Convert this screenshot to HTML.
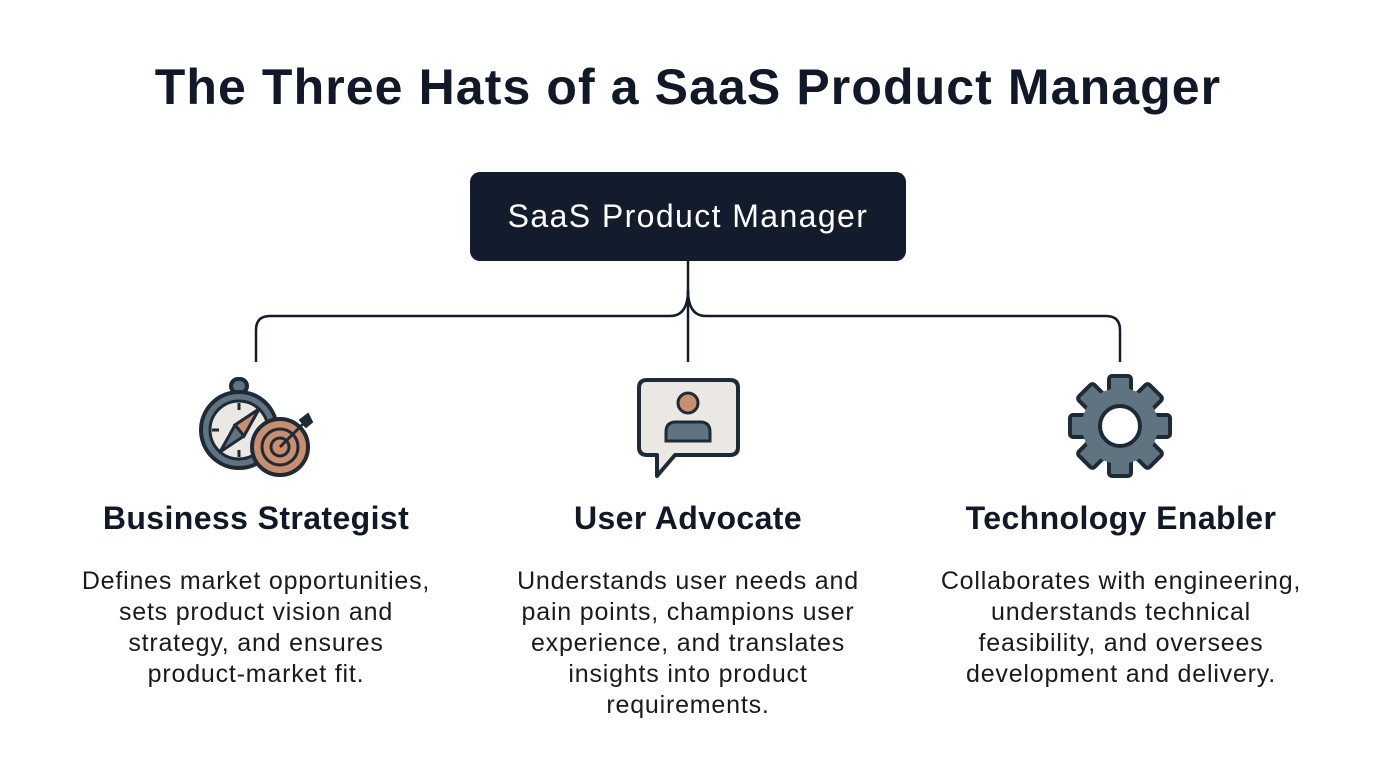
<!DOCTYPE html>
<html><head><meta charset="utf-8"><style>
body{margin:0;width:1376px;height:768px;background:#fff;font-family:"Liberation Sans",sans-serif;color:#111827;position:relative;overflow:hidden}
.t{position:absolute;left:0;width:1376px;text-align:center;top:58px;font-size:50px;font-weight:bold;letter-spacing:1.1px}
.box{position:absolute;left:470px;top:172px;width:436px;height:89px;background:#131c2c;border-radius:10px;color:#fff;font-size:32px;letter-spacing:1.4px;text-align:center;line-height:89px}
.h{position:absolute;width:500px;text-align:center;font-size:32px;font-weight:bold;top:500px;letter-spacing:0.4px}
.d{position:absolute;width:500px;text-align:center;font-size:25px;letter-spacing:0.8px;line-height:31px;top:566px;color:#1a1a1a}
</style></head><body>
<div class="t">The Three Hats of a SaaS Product Manager</div>
<div class="box">SaaS Product Manager</div>
<svg width="1376" height="768" style="position:absolute;left:0;top:0">
<g fill="none" stroke="#131c2c" stroke-width="2.5">
<path d="M688 261 V362"/>
<path d="M688 290 Q688 316 670 316 H270 Q256 316 256 330 V362"/>
<path d="M688 290 Q688 316 706 316 H1106 Q1120 316 1120 330 V362"/>
</g>
<g stroke="#1e2a36" stroke-width="4">
<rect x="231" y="379" width="16" height="14" rx="7" fill="#607380"/>
<circle cx="239" cy="430" r="38" fill="#607380"/>
<circle cx="239" cy="430" r="29" fill="#ebe8e3" stroke-width="3"/>
<path d="M239 403v7M239 450v7M212 430h7" stroke-width="3"/>
<path d="M259 409 L244 436 L220 452 L235 425 Z" fill="#607380" stroke-width="3"/>
<path d="M259 409 L244 436 L235 425 Z" fill="#c98d70" stroke-width="3"/>
<circle cx="280" cy="447" r="28" fill="#c98d70"/>
<circle cx="280" cy="447" r="18" fill="#c98d70" stroke-width="3"/>
<circle cx="280" cy="447" r="9" fill="#c98d70" stroke-width="3"/>
<path d="M280 447 L306 421" stroke-width="3"/>
<path d="M300 420 L308 414 L312 422 L306 427Z" fill="#1e2a36" stroke-width="2"/>
</g>
<g stroke="#1e2a36" stroke-width="4">
<path d="M647 380 H730 Q738 380 738 388 V447 Q738 455 730 455 H675 L657 476 V455 H647 Q639 455 639 447 V388 Q639 380 647 380Z" fill="#ebe8e3" stroke-linejoin="round"/>
<circle cx="688" cy="403" r="10" fill="#c98d70" stroke-width="3"/>
<path d="M666 441 V432 Q666 422 676 422 H700 Q710 422 710 432 V441Z" fill="#607380" stroke-width="3"/>
</g>
<g stroke="#1e2a36" stroke-width="4" fill="#607380" transform="translate(1120,426)">
<rect x="-11" y="-50" width="22" height="100" rx="3"/>
<rect x="-11" y="-50" width="22" height="100" rx="3" transform="rotate(45)"/>
<rect x="-11" y="-50" width="22" height="100" rx="3" transform="rotate(90)"/>
<rect x="-11" y="-50" width="22" height="100" rx="3" transform="rotate(135)"/>
<circle r="38" stroke="none"/>
<circle r="20" fill="#fff"/>
</g>
</svg>
<div class="h" style="left:6px">Business Strategist</div>
<div class="h" style="left:438px">User Advocate</div>
<div class="h" style="left:871px">Technology Enabler</div>
<div class="d" style="left:6px">Defines market opportunities,<br>sets product vision and<br>strategy, and ensures<br>product-market fit.</div>
<div class="d" style="left:438px">Understands user needs and<br>pain points, champions user<br>experience, and translates<br>insights into product<br>requirements.</div>
<div class="d" style="left:871px">Collaborates with engineering,<br>understands technical<br>feasibility, and oversees<br>development and delivery.</div>
</body></html>
